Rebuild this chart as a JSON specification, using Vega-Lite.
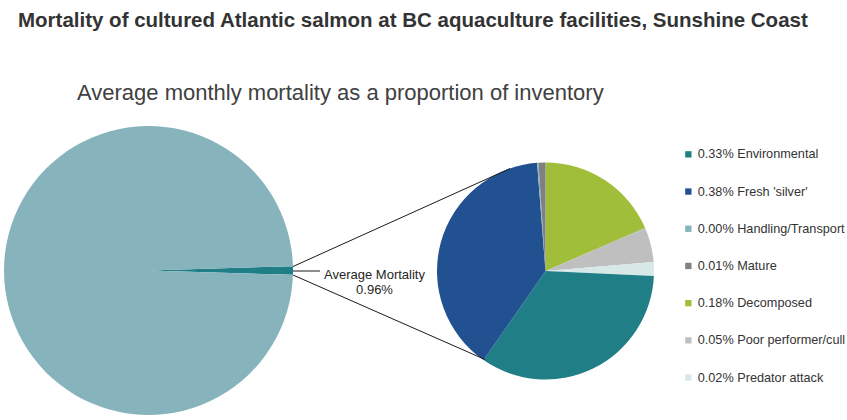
{
  "$schema": "https://vega.github.io/schema/vega-lite/v6.json",
  "width": 847,
  "height": 380,
  "autosize": "none",
  "padding": {"left": 0, "right": 0, "top": 40, "bottom": 0},
  "background": "white",
  "title": {
    "text": "Mortality of cultured Atlantic salmon at BC aquaculture facilities, Sunshine Coast",
    "anchor": "start",
    "dx": 18,
    "offset": 9,
    "font": "Liberation Sans",
    "fontSize": 20.5,
    "fontWeight": "bold",
    "color": "#333333"
  },
  "config": {
    "view": {"stroke": null},
    "font": "Liberation Sans",
    "legend": {
      "symbolType": "square",
      "symbolSize": 40,
      "symbolStrokeWidth": 0,
      "labelFontSize": 12.7,
      "labelColor": "#333333",
      "labelOffset": 3,
      "rowPadding": 23.2
    }
  },
  "layer": [
    {
      "data": {
        "values": [
          {"part": "Average Mortality", "share": 0.96, "slice": 1},
          {"part": "Rest of inventory", "share": 99.04, "slice": 2}
        ]
      },
      "mark": {"type": "arc", "radius": 144.5},
      "encoding": {
        "theta": {"field": "share", "type": "quantitative", "stack": true, "scale": {"range": [1.5406, 7.8238]}},
        "order": {"field": "slice", "type": "quantitative"},
        "color": {
          "field": "part",
          "type": "nominal",
          "scale": {"domain": ["Average Mortality", "Rest of inventory"], "range": ["#1F7E86", "#87B4BC"]},
          "legend": null
        },
        "x": {"datum": 148.5, "type": "quantitative", "scale": {"domain": [0, 847], "nice": false, "zero": false}, "axis": null},
        "y": {"datum": 270.5, "type": "quantitative", "scale": {"domain": [40, 420], "reverse": true, "nice": false, "zero": false}, "axis": null}
      }
    },
    {
      "data": {
        "values": [
          {"cause": "Decomposed", "label": "0.18% Decomposed", "share": 0.18, "slice": 1},
          {"cause": "Poor performer/cull", "label": "0.05% Poor performer/cull", "share": 0.05, "slice": 2},
          {"cause": "Predator attack", "label": "0.02% Predator attack", "share": 0.02, "slice": 3},
          {"cause": "Environmental", "label": "0.33% Environmental", "share": 0.33, "slice": 4},
          {"cause": "Fresh 'silver'", "label": "0.38% Fresh 'silver'", "share": 0.38, "slice": 5},
          {"cause": "Handling/Transport", "label": "0.00% Handling/Transport", "share": 0.002, "slice": 6},
          {"cause": "Mature", "label": "0.01% Mature", "share": 0.01, "slice": 7}
        ]
      },
      "mark": {"type": "arc", "radius": 108.5},
      "encoding": {
        "theta": {"field": "share", "type": "quantitative", "stack": true},
        "order": {"field": "slice", "type": "quantitative"},
        "color": {
          "field": "label",
          "type": "nominal",
          "title": null,
          "scale": {
            "domain": [
              "0.33% Environmental",
              "0.38% Fresh 'silver'",
              "0.00% Handling/Transport",
              "0.01% Mature",
              "0.18% Decomposed",
              "0.05% Poor performer/cull",
              "0.02% Predator attack"
            ],
            "range": ["#1F7E86", "#225191", "#87B4BC", "#808080", "#A0BE3A", "#BFBFBF", "#D7E8E7"]
          },
          "legend": {"orient": "none", "legendX": 682, "legendY": 108}
        },
        "x": {"datum": 545.5, "type": "quantitative", "scale": {"domain": [0, 847], "nice": false, "zero": false}, "axis": null},
        "y": {"datum": 271, "type": "quantitative", "scale": {"domain": [40, 420], "reverse": true, "nice": false, "zero": false}, "axis": null}
      }
    },
    {
      "data": {"values": [{}]},
      "mark": {"type": "rule", "color": "#1a1a1a", "strokeWidth": 1},
      "encoding": {
        "x": {"datum": 293, "type": "quantitative", "scale": {"domain": [0, 847], "nice": false, "zero": false}, "axis": null},
        "y": {"datum": 266.5, "type": "quantitative", "scale": {"domain": [40, 420], "reverse": true, "nice": false, "zero": false}, "axis": null},
        "x2": {"datum": 510},
        "y2": {"datum": 168.5}
      }
    },
    {
      "data": {"values": [{}]},
      "mark": {"type": "rule", "color": "#1a1a1a", "strokeWidth": 1},
      "encoding": {
        "x": {"datum": 293, "type": "quantitative", "scale": {"domain": [0, 847], "nice": false, "zero": false}, "axis": null},
        "y": {"datum": 275, "type": "quantitative", "scale": {"domain": [40, 420], "reverse": true, "nice": false, "zero": false}, "axis": null},
        "x2": {"datum": 485},
        "y2": {"datum": 359.5}
      }
    },
    {
      "data": {"values": [{}]},
      "mark": {"type": "rule", "color": "#1a1a1a", "strokeWidth": 1},
      "encoding": {
        "x": {"datum": 293, "type": "quantitative", "scale": {"domain": [0, 847], "nice": false, "zero": false}, "axis": null},
        "y": {"datum": 271, "type": "quantitative", "scale": {"domain": [40, 420], "reverse": true, "nice": false, "zero": false}, "axis": null},
        "x2": {"datum": 320},
        "y2": {"datum": 271}
      }
    },
    {
      "data": {"values": [{}]},
      "mark": {"type": "text", "lineBreak": "\n", "align": "center", "baseline": "middle", "fontSize": 13, "lineHeight": 15, "color": "#262626"},
      "encoding": {
        "text": {"value": "Average Mortality\n0.96%"},
        "x": {"datum": 374.5, "type": "quantitative", "scale": {"domain": [0, 847], "nice": false, "zero": false}, "axis": null},
        "y": {"datum": 274.5, "type": "quantitative", "scale": {"domain": [40, 420], "reverse": true, "nice": false, "zero": false}, "axis": null}
      }
    },
    {
      "data": {"values": [{}]},
      "mark": {"type": "text", "align": "left", "baseline": "alphabetic", "fontSize": 22, "color": "#404040"},
      "encoding": {
        "text": {"value": "Average monthly mortality as a proportion of inventory"},
        "x": {"datum": 77, "type": "quantitative", "scale": {"domain": [0, 847], "nice": false, "zero": false}, "axis": null},
        "y": {"datum": 100, "type": "quantitative", "scale": {"domain": [40, 420], "reverse": true, "nice": false, "zero": false}, "axis": null}
      }
    }
  ],
  "resolve": {"scale": {"theta": "independent", "color": "independent"}}
}
